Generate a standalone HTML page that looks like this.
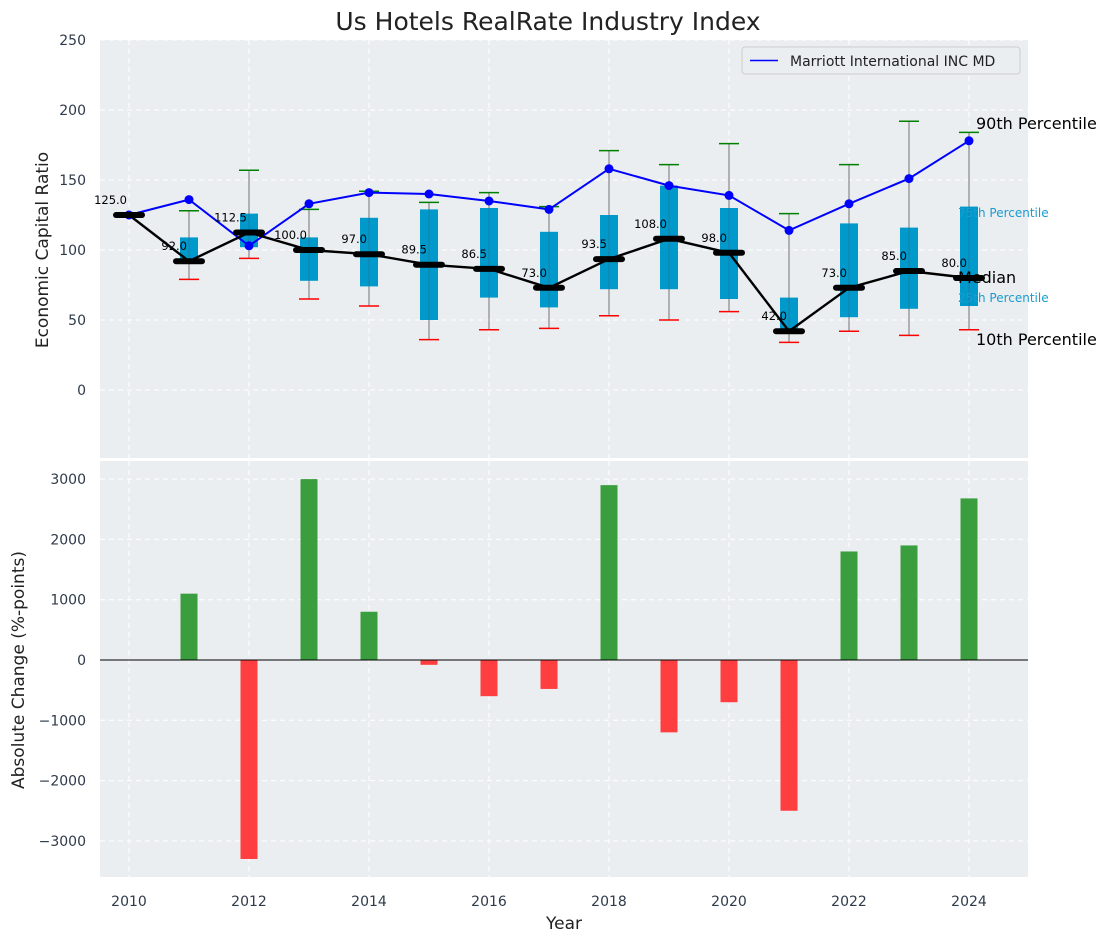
<!DOCTYPE html>
<html><head><meta charset="utf-8"><style>
body{margin:0;background:#fff;}
svg text{font-family:"DejaVu Sans","Liberation Sans",sans-serif;}
</style></head><body>
<svg id="c" width="1111" height="942" xmlns="http://www.w3.org/2000/svg"></svg>
<script>
const years=[2010,2011,2012,2013,2014,2015,2016,2017,2018,2019,2020,2021,2022,2023,2024];
const medians=[125,92,112.5,100,97,89.5,86.5,73,93.5,108,98,42,73,85,80];
const marriott=[125,136,103,133,141,140,135,129,158,146,139,114,133,151,178];
const p90=[125,128,157,129,142,134,141,131,171,161,176,126,161,192,184];
const p75=[125,109,126,109,123,129,130,113,125,146,130,66,119,116,131];
const p25=[125,90,102,78,74,50,66,59,72,72,65,41,52,58,60];
const p10=[125,79,94,65,60,36,43,44,53,50,56,34,42,39,43];
const changes=[0,1100,-3300,3000,800,-80,-600,-480,2900,-1200,-700,-2500,1800,1900,2680];
const topTicks=[0,50,100,150,200,250];
const botTicks=[-3000,-2000,-1000,0,1000,2000,3000];
const xTicks=[2010,2012,2014,2016,2018,2020,2022,2024];

const NS="http://www.w3.org/2000/svg";
const svg=document.getElementById('c');
function el(t,a,p){const e=document.createElementNS(NS,t);for(const k in a)e.setAttribute(k,a[k]);(p||svg).appendChild(e);return e;}
const L=100,R=1028;
const x=v=>129+(v-2010)*60;
const yT=v=>390-v*1.4;
const yB=v=>660-v*0.0603;
const T1=40,B1=458,T2=461,B2=877;

let bg1=el('rect',{x:L,y:T1,width:R-L,height:B1-T1,fill:'#eaeef0'});


let bg2=el('rect',{x:L,y:T2,width:R-L,height:B2-T2,fill:'#eaeef0'});



xTicks.forEach(v=>{
 el('line',{x1:x(v),x2:x(v),y1:T1,y2:B1,stroke:'#fff','stroke-dasharray':'5,4','stroke-width':1});
 el('line',{x1:x(v),x2:x(v),y1:T2,y2:B2,stroke:'#fff','stroke-dasharray':'5,4','stroke-width':1});
 let t=el('text',{x:x(v),y:906,'font-size':14,fill:'#2e3a4a','text-anchor':'middle'});t.textContent=v;
 
 
});
topTicks.forEach(v=>{
 el('line',{x1:L,x2:R,y1:yT(v),y2:yT(v),stroke:'#fff','stroke-dasharray':'5,4'});
 let t=el('text',{x:86,y:yT(v)+5,'font-size':14,fill:'#2e3a4a','text-anchor':'end'});t.textContent=v;
 
 
});
botTicks.forEach(v=>{
 el('line',{x1:L,x2:R,y1:yB(v),y2:yB(v),stroke:'#fff','stroke-dasharray':'5,4'});
 let t=el('text',{x:86,y:yB(v)+5,'font-size':14,fill:'#2e3a4a','text-anchor':'end'});t.textContent=String(v).replace('-','\u2212');
 
 
});

years.forEach((yr,i)=>{
 const cx=x(yr);
 if(p90[i]!==p10[i]){
  let w=el('line',{x1:cx,x2:cx,y1:yT(p90[i]),y2:yT(p10[i]),stroke:'#888','stroke-width':1.2});
  
  
  let c1=el('line',{x1:cx-10,x2:cx+10,y1:yT(p90[i]),y2:yT(p90[i]),stroke:'green','stroke-width':1.5});
  
  
  let c2=el('line',{x1:cx-10,x2:cx+10,y1:yT(p10[i]),y2:yT(p10[i]),stroke:'red','stroke-width':1.5});
  
  
  let b=el('rect',{x:cx-9,y:yT(p75[i]),width:18,height:yT(p25[i])-yT(p75[i]),fill:'#0099cc'});
  
  
  el('line',{x1:cx,x2:cx,y1:yT(p75[i]),y2:yT(p25[i]),stroke:'#555','stroke-width':0.7,opacity:0.5});
 }
});
let mp=el('polyline',{points:years.map((yr,i)=>x(yr)+','+yT(marriott[i])).join(' '),fill:'none',stroke:'blue','stroke-width':2});


years.forEach((yr,i)=>{let c=el('circle',{cx:x(yr),cy:yT(marriott[i]),r:4.5,fill:'blue'});
 
 });
let ml=el('polyline',{points:years.map((yr,i)=>x(yr)+','+yT(medians[i])).join(' '),fill:'none',stroke:'#000','stroke-width':2.4});


years.forEach((yr,i)=>{
 let m=el('line',{x1:x(yr)-13,x2:x(yr)+13,y1:yT(medians[i]),y2:yT(medians[i]),stroke:'#000','stroke-width':6,'stroke-linecap':'round'});
 
 
 let t=el('text',{x:x(yr)-2,y:yT(medians[i])-11,'font-size':11.5,fill:'#000','text-anchor':'end'});t.textContent=medians[i].toFixed(1);
 
 
});
const ann=[["90th Percentile",976,129,16,'#000','p90-annotation'],["75th Percentile",958,217,12,'#1a9ccf','p75-annotation'],["Median",958,283,16,'#000','median-annotation'],["25th Percentile",958,302,12,'#1a9ccf','p25-annotation'],["10th Percentile",976,345,16,'#000','p10-annotation']];
ann.forEach(a=>{let t=el('text',{x:a[1],y:a[2],'font-size':a[3],fill:a[4]});t.textContent=a[0];
 
 });

let lg=el('g',{});


el('rect',{x:742,y:47,width:278,height:27,rx:3,fill:'#eaeef0',stroke:'#ccc'},lg);
el('line',{x1:750,x2:778,y1:60.5,y2:60.5,stroke:'blue','stroke-width':1.6},lg);
let lt=el('text',{x:790,y:66,'font-size':14,fill:'#222'},lg);lt.textContent='Marriott International INC MD';

years.forEach((yr,i)=>{
 const v=changes[i];if(v===0)return;
 let b=el('rect',{x:x(yr)-8.5,y:Math.min(yB(v),yB(0)),width:17,height:Math.abs(yB(v)-yB(0)),fill:v>0?'#3a9e3e':'#ff3f3f'});
 
 
});
el('line',{x1:L,x2:R,y1:yB(0),y2:yB(0),stroke:'#000','stroke-width':1});

let ti=el('text',{x:548,y:30,'font-size':25,fill:'#222','text-anchor':'middle'});ti.textContent='Us Hotels RealRate Industry Index';


let yl=el('text',{x:0,y:0,'font-size':17,fill:'#222','text-anchor':'middle',transform:'translate(48,250) rotate(-90)'});yl.textContent='Economic Capital Ratio';


let yl2=el('text',{x:0,y:0,'font-size':17,fill:'#222','text-anchor':'middle',transform:'translate(24,670) rotate(-90)'});yl2.textContent='Absolute Change (%-points)';


let xl=el('text',{x:564,y:929,'font-size':17,fill:'#222','text-anchor':'middle'});xl.textContent='Year';


</script>
</body></html>
